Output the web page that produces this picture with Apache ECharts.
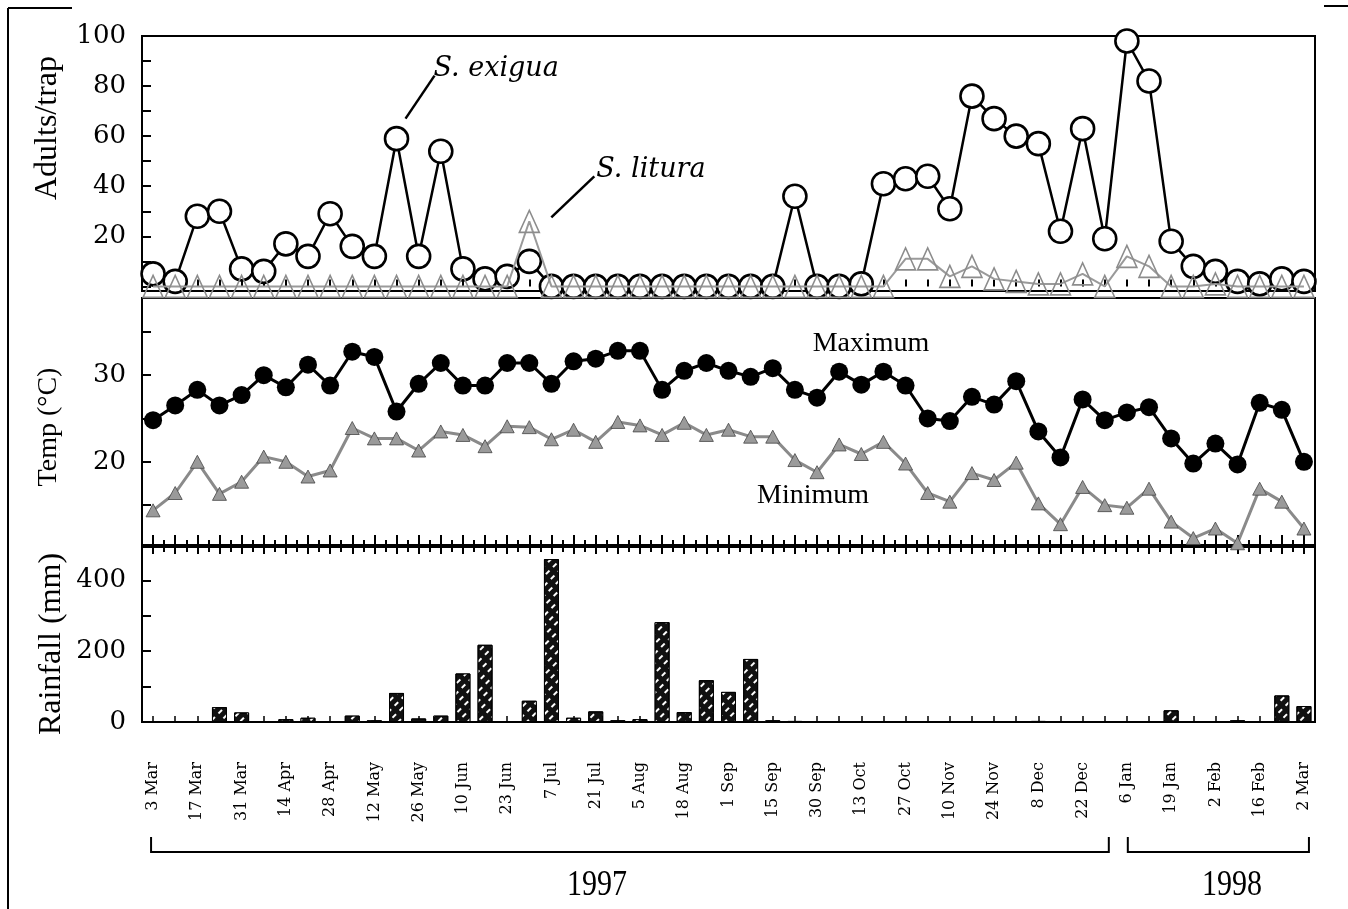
<!DOCTYPE html>
<html>
<head>
<meta charset="utf-8">
<script src="https://cdn.jsdelivr.net/npm/echarts@6/dist/echarts.min.js"></script>
<style>
  html, body { margin: 0; padding: 0; background: #fff; }
  #chart { width: 1348px; height: 909px; }
</style>
</head>
<body>
<div id="chart"></div>
<script>
// Weekly sampling dates, March 1997 – March 1998
const weeks = ['3 Mar','10 Mar','17 Mar','24 Mar','31 Mar','7 Apr','14 Apr','21 Apr','28 Apr','5 May',
  '12 May','19 May','26 May','2 Jun','10 Jun','16 Jun','23 Jun','30 Jun','7 Jul','14 Jul',
  '21 Jul','28 Jul','5 Aug','11 Aug','18 Aug','25 Aug','1 Sep','8 Sep','15 Sep','22 Sep',
  '30 Sep','6 Oct','13 Oct','20 Oct','27 Oct','3 Nov','10 Nov','17 Nov','24 Nov','1 Dec',
  '8 Dec','15 Dec','22 Dec','29 Dec','6 Jan','12 Jan','19 Jan','26 Jan','2 Feb','9 Feb',
  '16 Feb','23 Feb','2 Mar'];

// Pheromone trap catches (adults/trap)
const exigua = [5,2,28,30,7,6,17,12,29,16,12,59,12,54,7,3,4,10,0,0,
  0,0,0,0,0,0,0,0,0,36,0,0,1,41,43,44,31,76,67,60,
  57,22,63,19,98,82,18,8,6,2,1,3,2];
const litura = [0,0,0,0,0,0,0,0,0,0,0,0,0,0,0,0,0,26,0,0,
  0,0,0,0,0,0,0,0,0,0,0,0,0,0,11,11,4,8,3,2,
  1,1,5,0,12,8,0,0,1,0,0,0,0];

// Weekly temperature (°C)
const tMax = [24.8,26.5,28.3,26.5,27.7,30.0,28.6,31.2,28.8,32.7,32.1,25.8,29.0,31.4,28.8,28.8,31.4,31.4,29.0,31.6,
  31.9,32.8,32.8,28.3,30.5,31.4,30.5,29.8,30.8,28.3,27.4,30.4,28.9,30.4,28.8,25.0,24.7,27.5,26.6,29.3,
  23.5,20.5,27.2,24.8,25.7,26.3,22.7,19.8,22.1,19.7,26.8,26.0,20.0];
const tMin = [14.4,16.4,20.0,16.3,17.7,20.6,20.0,18.3,19.0,23.9,22.7,22.7,21.3,23.5,23.1,21.8,24.1,24.0,22.6,23.7,
  22.3,24.6,24.2,23.1,24.5,23.1,23.7,22.9,22.9,20.2,18.8,22.0,20.9,22.3,19.8,16.4,15.4,18.7,17.9,19.9,
  15.2,12.8,17.1,15.0,14.7,16.9,13.1,11.2,12.3,10.6,16.9,15.4,12.3];

// Weekly rainfall (mm)
const rain = [2,2,0,42,27,2,8,12,0,18,5,82,10,18,137,218,2,60,460,12,
  30,5,8,282,28,118,85,178,5,3,0,0,0,0,0,0,0,0,0,0,
  3,0,0,0,0,0,33,0,0,5,0,75,45];

// Axis tick / label values
const trapLabels = [20, 40, 60, 80, 100];
const trapTicks = [0, 10, 20, 30, 40, 50, 60, 70, 80, 90, 100];
const tempLabels = [20, 30];
const tempTicks = [15, 20, 25, 30, 35];
const rainLabels = [0, 200, 400];
const rainTicks = [0, 100, 200, 300, 400];

const SERIF = '"Liberation Serif", "Times New Roman", serif';
const BOOK = '"DejaVu Serif", serif';

const chart = echarts.init(document.getElementById('chart'), null, { renderer: 'canvas' });

const L = 142, W = 1173;
const grids = [
  { left: L, top: 36, width: W, height: 255 },
  { left: L, top: 298, width: W, height: 247 },
  { left: L, top: 547, width: W, height: 175 }
];

function catAxis(gridIndex, extra) {
  return Object.assign({
    type: 'category', data: weeks, gridIndex, boundaryGap: true,
    axisLine: { show: false },
    axisLabel: { show: false },
    splitLine: { show: false }
  }, extra);
}
function valAxis(gridIndex, min, max, labels, ticks) {
  return {
    type: 'value', gridIndex, min, max,
    axisLine: { show: true, lineStyle: { color: '#000', width: 2 } },
    axisTick: { show: true, inside: true, length: 9, customValues: ticks, lineStyle: { color: '#000', width: 2 } },
    axisLabel: { show: true, customValues: labels, margin: 16, color: '#000', fontFamily: BOOK, fontSize: 26 },
    splitLine: { show: false }
  };
}

const option = {
  animation: false,
  backgroundColor: '#fff',
  grid: grids.map(g => Object.assign({ show: true, borderColor: '#000', borderWidth: 2, backgroundColor: 'transparent' }, g)),
  xAxis: [
    catAxis(0, { position: 'bottom', axisTick: { show: true, inside: true, alignWithLabel: true, interval: 0, length: 7, lineStyle: { color: '#000', width: 2 } } }),
    catAxis(1, { position: 'bottom', axisTick: { show: true, inside: true, alignWithLabel: true, interval: 0, length: 10, lineStyle: { color: '#000', width: 2 } } }),
    catAxis(1, { position: 'bottom', axisTick: { show: true, inside: true, interval: 0, length: 5, lineStyle: { color: '#000', width: 2 } } }),
    catAxis(2, {
      position: 'bottom',
      axisTick: { show: true, inside: true, alignWithLabel: true, interval: 0, length: 6, lineStyle: { color: '#000', width: 1.5 } },
      axisLabel: { show: true, interval: 1, rotate: 90, margin: 40, color: '#000', fontFamily: BOOK, fontSize: 16 }
    }),
    catAxis(2, { position: 'top', axisTick: { show: true, inside: true, alignWithLabel: true, interval: 0, length: 7, lineStyle: { color: '#000', width: 2 } } }),
    catAxis(2, { position: 'top', axisTick: { show: true, inside: true, interval: 0, length: 5, lineStyle: { color: '#000', width: 2 } } })
  ],
  yAxis: [
    valAxis(0, -1.84, 100, trapLabels, trapTicks),
    valAxis(1, 10.4, 38.9, tempLabels, tempTicks),
    valAxis(2, 0, 494, rainLabels, rainTicks)
  ],
  series: [
    {
      name: 'S. exigua', type: 'line', xAxisIndex: 0, yAxisIndex: 0, data: exigua,
      symbol: 'circle', symbolSize: 23, showAllSymbol: true,
      lineStyle: { color: '#000', width: 2.5 },
      itemStyle: { color: '#fff', borderColor: '#000', borderWidth: 2.6 },
      z: 3
    },
    {
      name: 'S. litura', type: 'line', xAxisIndex: 0, yAxisIndex: 0, data: litura,
      symbol: 'triangle', symbolSize: [20, 22], showAllSymbol: true,
      lineStyle: { color: '#9a9a9a', width: 2 },
      itemStyle: { color: 'rgba(255,255,255,0)', borderColor: '#8c8c8c', borderWidth: 1.6 },
      z: 4
    },
    {
      name: 'Maximum', type: 'line', xAxisIndex: 1, yAxisIndex: 1, data: tMax,
      symbol: 'circle', symbolSize: 18, showAllSymbol: true,
      lineStyle: { color: '#000', width: 3 },
      itemStyle: { color: '#000' },
      z: 3
    },
    {
      name: 'Minimum', type: 'line', xAxisIndex: 1, yAxisIndex: 1, data: tMin,
      symbol: 'triangle', symbolSize: [14, 13], showAllSymbol: true,
      lineStyle: { color: '#8a8a8a', width: 3 },
      itemStyle: { color: '#9a9a9a', borderColor: '#444', borderWidth: 0.8 },
      z: 3
    },
    {
      name: 'Rainfall', type: 'bar', xAxisIndex: 3, yAxisIndex: 2, data: rain,
      barWidth: 15,
      itemStyle: {
        color: '#111', borderColor: '#000', borderWidth: 1,
        decal: { symbol: 'rect', symbolSize: 1, color: '#fff', dashArrayX: [[5, 5]], dashArrayY: [1.6, 5], rotation: -Math.PI / 4 }
      }
    }
  ]
};

chart.setOption(option);

// Annotations placed relative to the plotted data
const px = (xi, yi, idx, v) => chart.convertToPixel({ xAxisIndex: xi, yAxisIndex: yi }, [idx, v]);
const pEx = px(0, 0, 11, exigua[11]);
const pLi = px(0, 0, 17, litura[17]);
const xStart = px(3, 2, 0, 0)[0];
const xMid = (px(3, 2, 43, 0)[0] + px(3, 2, 44, 0)[0]) / 2;
const x97 = xMid - 7;
const x98 = xMid + 12;
const xEnd = px(3, 2, 52, 0)[0] + 5;

const line = (x1, y1, x2, y2, w) => ({ type: 'line', shape: { x1, y1, x2, y2 }, style: { stroke: '#000', lineWidth: w || 2 }, silent: true });
const text = (x, y, t, font, opts) => Object.assign({
  type: 'text', x, y, silent: true,
  style: Object.assign({ text: t, fill: '#000', font, textAlign: 'center', textVerticalAlign: 'middle' }, opts && opts.style)
}, opts && opts.el);

chart.setOption({
  graphic: [
    // outer frame fragments
    line(8, 8, 72, 8, 2), line(8, 8, 8, 909, 2), line(1324, 6, 1348, 6, 2),
    // species annotations
    line(pEx[0] + 9, pEx[1] - 20, pEx[0] + 38, pEx[1] - 63, 2.5),
    text(pEx[0] + 37, pEx[1] - 70, 'S. exigua', 'italic 27px ' + BOOK, { style: { textAlign: 'left' } }),
    line(pLi[0] + 22, pLi[1] - 4, pLi[0] + 65, pLi[1] - 45, 2.5),
    text(pLi[0] + 67, pLi[1] - 51, 'S. litura', 'italic 27px ' + BOOK, { style: { textAlign: 'left' } }),
    // temperature labels
    text(871, 344, 'Maximum', '28px ' + SERIF),
    text(813, 496, 'Minimum', '28px ' + SERIF),
    // axis titles
    text(48, 128, 'Adults/trap', '32px ' + SERIF, { el: { rotation: Math.PI / 2 } }),
    text(49, 427, 'Temp (°C)', '28px ' + SERIF, { el: { rotation: Math.PI / 2 } }),
    text(52, 644, 'Rainfall (mm)', '32px ' + SERIF, { el: { rotation: Math.PI / 2 } }),
    // year brackets
    line(xStart - 2, 852, x97, 852), line(xStart - 2, 837, xStart - 2, 853), line(x97, 837, x97, 853),
    line(x98, 852, xEnd, 852), line(x98, 837, x98, 853), line(xEnd, 837, xEnd, 853),
    text(597, 886, '1997', '30px ' + SERIF, { el: { scaleY: 1.2 } }),
    text(1232, 886, '1998', '30px ' + SERIF, { el: { scaleY: 1.2 } })
  ]
});
</script>
</body>
</html>
